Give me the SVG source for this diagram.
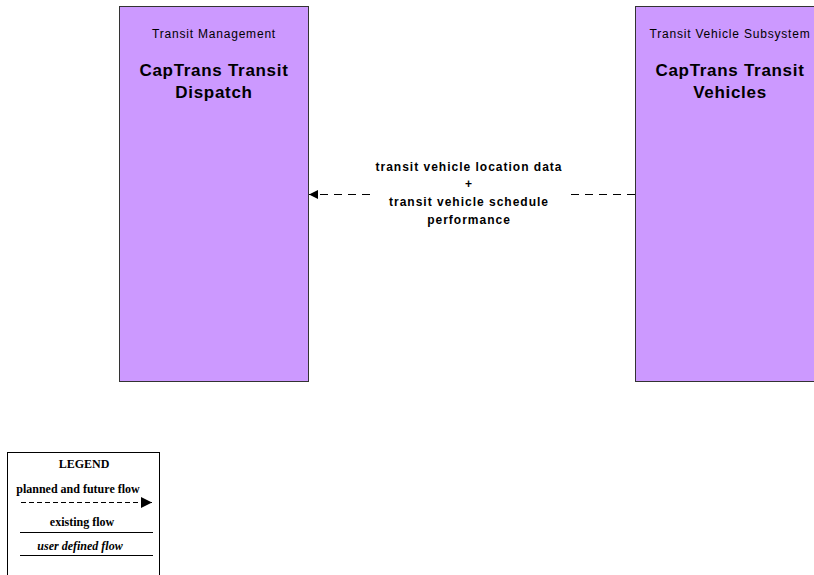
<svg xmlns="http://www.w3.org/2000/svg" width="814" height="575" viewBox="0 0 814 575">
<style>
.box{fill:#cc99ff;stroke:#333;stroke-width:1}
.sub{font-family:"Liberation Sans",Arial,sans-serif;font-size:12px;letter-spacing:0.8px;fill:#000;text-anchor:middle}
.title{font-family:"Liberation Sans",Arial,sans-serif;font-size:17px;letter-spacing:0.7px;font-weight:bold;fill:#000;text-anchor:middle}
.lbl{font-family:"Liberation Sans",Arial,sans-serif;font-size:12px;letter-spacing:1px;font-weight:bold;fill:#000;text-anchor:middle}
.flow{stroke:#000;stroke-width:1;fill:none;stroke-dasharray:8,6}
.leg{font-family:"Liberation Serif","Times New Roman",serif;font-size:12px;font-weight:bold;fill:#000;text-anchor:middle}
</style>
<defs>
<marker id="arr" viewBox="0 0 10 10" refX="10" refY="5" markerWidth="9" markerHeight="9" markerUnits="userSpaceOnUse" orient="auto">
<path d="M0,0 L10,5 L0,10 z" fill="#000"/>
</marker>
<marker id="arr2" viewBox="0 0 10 10" refX="10" refY="5" markerWidth="11" markerHeight="11" markerUnits="userSpaceOnUse" orient="auto">
<path d="M0,0 L10,5 L0,10 z" fill="#000"/>
</marker>
</defs>
<g id="node-dispatch">
<rect class="box" x="119.5" y="6.5" width="189" height="375"/>
<text class="sub" x="214" y="38">Transit Management</text>
<text class="title" x="214" y="76">CapTrans Transit</text>
<text class="title" x="214" y="98">Dispatch</text>
</g>
<g id="node-vehicles">
<rect class="box" x="635.5" y="6.5" width="189" height="375"/>
<text class="sub" x="730" y="38">Transit Vehicle Subsystem</text>
<text class="title" x="730" y="76">CapTrans Transit</text>
<text class="title" x="730" y="98">Vehicles</text>
</g>
<g id="connectors">
<path class="flow" d="M635,194.5 L565,194.5"/>
<path class="flow" d="M370,194.5 L309,194.5" marker-end="url(#arr)"/>
<text class="lbl" x="469" y="171">transit vehicle location data</text>
<text class="lbl" x="469" y="188">+</text>
<text class="lbl" x="469" y="206">transit vehicle schedule</text>
<text class="lbl" x="469" y="224">performance</text>
</g>
<g id="legend">
<rect x="7.5" y="452.5" width="152" height="130" fill="#fff" stroke="#000" stroke-width="1"/>
<text class="leg" x="84" y="468">LEGEND</text>
<text class="leg" x="78" y="493">planned and future flow</text>
<path d="M21,502.5 L152,502.5" stroke="#000" stroke-width="1" stroke-dasharray="5,3" marker-end="url(#arr2)"/>
<text class="leg" x="82" y="526">existing flow</text>
<path d="M20,532.5 L153,532.5" stroke="#000" stroke-width="1"/>
<text class="leg" x="80" y="550" font-style="italic">user defined flow</text>
<path d="M20,555.5 L153,555.5" stroke="#000" stroke-width="1"/>
</g>
</svg>
